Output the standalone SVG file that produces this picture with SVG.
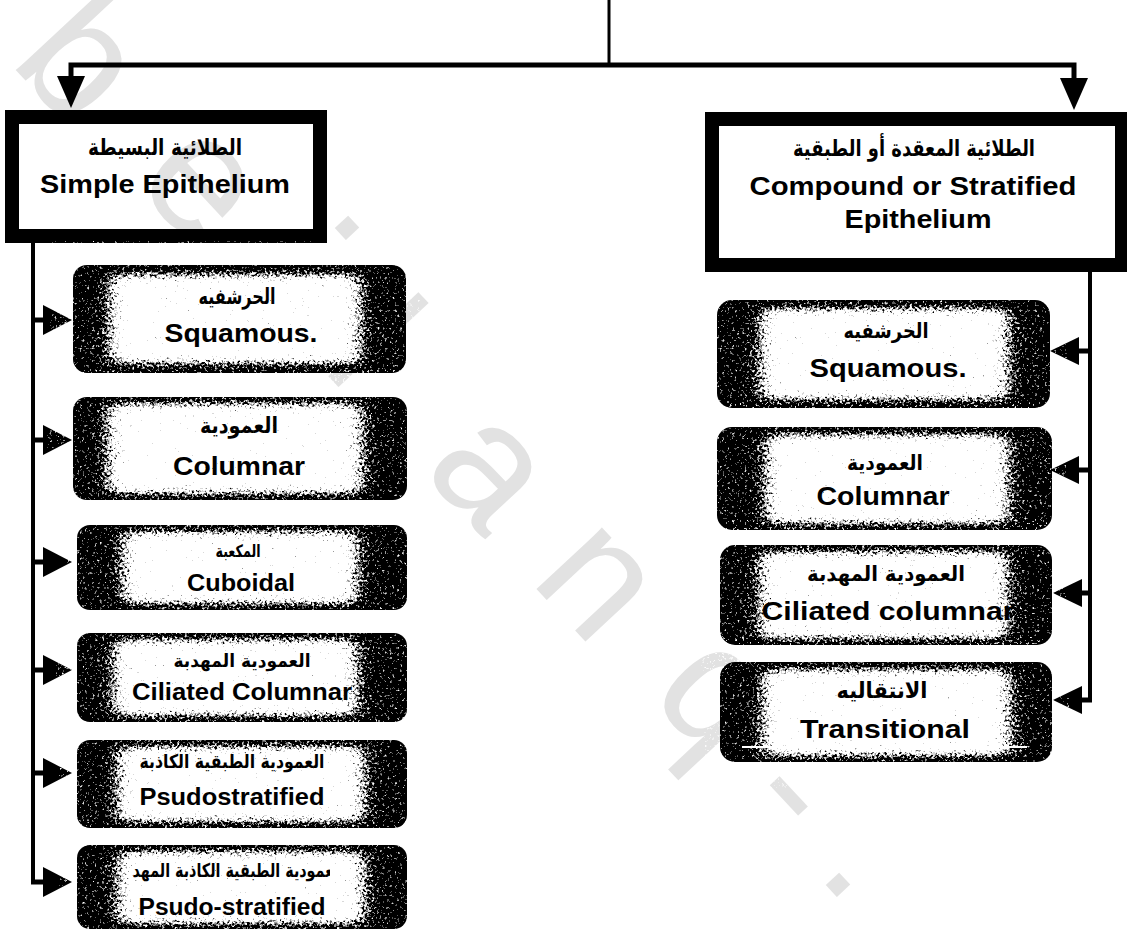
<svg xmlns="http://www.w3.org/2000/svg" width="1127" height="929" viewBox="0 0 1127 929">
<style>
.en{font-family:"Liberation Sans",Arial,sans-serif;font-weight:bold;fill:#000;text-anchor:middle}
.ar{font-family:"DejaVu Sans",sans-serif;font-weight:bold;fill:#000;text-anchor:middle}
.hbox{fill:none;stroke:#000;stroke-width:14}
.nbg{fill:#000}
.inner{fill:#fff;filter:url(#spk)}
.conn{stroke:#000;fill:none}
.arr{fill:#000}
.wm{font-family:"Liberation Sans",Arial,sans-serif;font-size:170px;fill:#e2e2e2;text-anchor:middle}
</style>
<defs>
<filter id="spk" x="-25%" y="-40%" width="150%" height="180%" color-interpolation-filters="sRGB">
<feGaussianBlur in="SourceAlpha" stdDeviation="10 5" result="blur"/>
<feTurbulence type="fractalNoise" baseFrequency="0.4" numOctaves="2" seed="7" result="noise"/>
<feColorMatrix in="noise" type="matrix" values="0 0 0 0 0  0 0 0 0 0  0 0 0 0 0  1 0 0 0 0" result="na"/>
<feComposite in="blur" in2="na" operator="arithmetic" k1="0" k2="1.6" k3="2.6" k4="-1.5" result="m"/>
<feComponentTransfer in="m" result="q"><feFuncA type="discrete" tableValues="0 0.35 0.6 0.85 1 1"/></feComponentTransfer>
<feFlood flood-color="#ffffff" result="w"/>
<feComposite in="w" in2="q" operator="in"/>
</filter>
<path id="arrR" d="M0,-15 L29,0 L0,15Z"/>
<path id="arrL" d="M0,-14 L-29,0 L0,14Z"/>
<path id="arrD" d="M-14,0 L14,0 L0,32Z"/>
<clipPath id="clipN6"><rect x="133" y="850" width="197" height="40"/></clipPath>
</defs>
<rect width="1127" height="929" fill="#fff"/>
<g id="watermark">
<text class="wm" transform="translate(85,55) rotate(47)" y="61">b</text>
<text class="wm" transform="translate(197,187) rotate(47)" y="44">e</text>
<text class="wm" transform="translate(347,228) rotate(47)" y="9">.</text>
<text class="wm" transform="translate(378,340) rotate(47)" y="61">l</text>
<text class="wm" transform="translate(485,475) rotate(47)" y="44">a</text>
<text class="wm" transform="translate(593,585) rotate(47)" y="44">n</text>
<text class="wm" transform="translate(712,700) rotate(47)" y="44">q</text>
<text class="wm" transform="translate(791,794) rotate(47)" y="48">-</text>
<text class="wm" transform="translate(838,885) rotate(47)" y="9">.</text>
</g>
<g id="connectors">
<path class="conn" stroke-width="3" d="M609,0 V66"/>
<path class="conn" stroke-width="5" d="M71,80 V65 H1074 V82"/>
<use href="#arrD" class="arr" x="71" y="76"/>
<use href="#arrD" class="arr" x="1074" y="78"/>
<path class="conn" stroke-width="4" d="M33,242 V882"/>
<path class="conn" stroke-width="5" d="M33,320 H45 M33,440 H45 M33,562 H45 M33,670 H45 M33,773 H45 M31,882 H45"/>
<use href="#arrR" class="arr" x="43" y="320"/>
<use href="#arrR" class="arr" x="43" y="440"/>
<use href="#arrR" class="arr" x="43" y="562"/>
<use href="#arrR" class="arr" x="43" y="670"/>
<use href="#arrR" class="arr" x="43" y="773"/>
<use href="#arrR" class="arr" x="43" y="882"/>
<path class="conn" stroke-width="4" d="M1090,272 V702"/>
<path class="conn" stroke-width="5" d="M1090,351 H1077 M1090,470 H1077 M1090,593 H1080 M1092,700 H1080"/>
<use href="#arrL" class="arr" x="1079" y="351"/>
<use href="#arrL" class="arr" x="1079" y="470"/>
<use href="#arrL" class="arr" x="1082" y="593"/>
<use href="#arrL" class="arr" x="1082" y="700"/>
</g>
<g id="simple">
<rect class="hbox" x="12" y="117" width="308" height="119"/>
<text class="ar" x="165" y="155" font-size="23" textLength="154" lengthAdjust="spacingAndGlyphs">الطلائية البسيطة</text>
<text class="en" x="165" y="193" font-size="26" textLength="250" lengthAdjust="spacingAndGlyphs">Simple Epithelium</text>
</g>
<g id="compound">
<rect class="hbox" x="712" y="119" width="410" height="146"/>
<text class="ar" x="914" y="156" font-size="23" textLength="242" lengthAdjust="spacingAndGlyphs">الطلائية المعقدة أو الطبقية</text>
<text class="en" x="913" y="195" font-size="26" textLength="327" lengthAdjust="spacingAndGlyphs">Compound or Stratified</text>
<text class="en" x="918" y="228" font-size="26" textLength="147" lengthAdjust="spacingAndGlyphs">Epithelium</text>
</g>
<g id="s-squamous">
<rect class="nbg" x="73" y="265" width="333" height="108" rx="14"/>
<rect class="inner" x="112" y="276" width="246" height="86"/>
<text class="ar" x="237" y="304" font-size="22" textLength="77" lengthAdjust="spacingAndGlyphs">الحرشفيه</text>
<text class="en" x="241" y="342" font-size="26" textLength="153" lengthAdjust="spacingAndGlyphs">Squamous.</text>
</g>
<g id="s-columnar">
<rect class="nbg" x="73" y="397" width="334" height="103" rx="14"/>
<rect class="inner" x="110" y="405" width="250" height="87"/>
<text class="ar" x="239" y="433" font-size="22" textLength="78" lengthAdjust="spacingAndGlyphs">العمودية</text>
<text class="en" x="239" y="475" font-size="26" textLength="132" lengthAdjust="spacingAndGlyphs">Columnar</text>
</g>
<g id="s-cuboidal">
<rect class="nbg" x="77" y="525" width="330" height="85" rx="13"/>
<rect class="inner" x="125" y="533" width="230" height="69"/>
<text class="ar" x="238" y="557" font-size="17" textLength="45" lengthAdjust="spacingAndGlyphs">المكعبة</text>
<text class="en" x="241" y="591" font-size="23" textLength="108" lengthAdjust="spacingAndGlyphs">Cuboidal</text>
</g>
<g id="s-ciliated">
<rect class="nbg" x="77" y="633" width="330" height="89" rx="13"/>
<rect class="inner" x="116" y="641" width="239" height="73"/>
<text class="ar" x="242" y="667" font-size="18" textLength="137" lengthAdjust="spacingAndGlyphs">العمودية المهدبة</text>
<text class="en" x="242" y="700" font-size="23" textLength="220" lengthAdjust="spacingAndGlyphs">Ciliated Columnar</text>
</g>
<g id="s-pseudo">
<rect class="nbg" x="77" y="740" width="330" height="88" rx="13"/>
<rect class="inner" x="120" y="748" width="242" height="72"/>
<text class="ar" x="232" y="768" font-size="19" textLength="185" lengthAdjust="spacingAndGlyphs">العمودية الطبقية الكاذبة</text>
<text class="en" x="232" y="805" font-size="23" textLength="185" lengthAdjust="spacingAndGlyphs">Psudostratified</text>
</g>
<g id="s-pseudo-ciliated">
<rect class="nbg" x="77" y="845" width="330" height="84" rx="13"/>
<rect class="inner" x="120" y="853" width="242" height="69"/>
<text class="ar" x="231" y="877" font-size="19" textLength="225" lengthAdjust="spacingAndGlyphs" clip-path="url(#clipN6)">العمودية الطبقية الكاذبة المهدبة</text>
<text class="en" x="232" y="915" font-size="23" textLength="187" lengthAdjust="spacingAndGlyphs">Psudo-stratified</text>
</g>
<g id="c-squamous">
<rect class="nbg" x="717" y="300" width="333" height="108" rx="15"/>
<rect class="inner" x="763" y="310" width="243" height="88"/>
<text class="ar" x="886" y="338" font-size="21" textLength="85" lengthAdjust="spacingAndGlyphs">الحرشفيه</text>
<text class="en" x="888" y="377" font-size="26" textLength="157" lengthAdjust="spacingAndGlyphs">Squamous.</text>
</g>
<g id="c-columnar">
<rect class="nbg" x="717" y="427" width="335" height="103" rx="15"/>
<rect class="inner" x="768" y="436" width="238" height="86"/>
<text class="ar" x="885" y="470" font-size="21" textLength="76" lengthAdjust="spacingAndGlyphs">العمودية</text>
<text class="en" x="883" y="505" font-size="26" textLength="133" lengthAdjust="spacingAndGlyphs">Columnar</text>
</g>
<g id="c-ciliated">
<rect class="nbg" x="720" y="545" width="332" height="100" rx="15"/>
<rect class="inner" x="762" y="553" width="243" height="84"/>
<text class="ar" x="886" y="581" font-size="21" textLength="158" lengthAdjust="spacingAndGlyphs">العمودية المهدبة</text>
<text class="en" x="888" y="620" font-size="26" textLength="253" lengthAdjust="spacingAndGlyphs">Ciliated columnar</text>
</g>
<g id="c-transitional">
<rect class="nbg" x="720" y="662" width="332" height="100" rx="15"/>
<rect class="inner" x="765" y="671" width="243" height="83"/>
<text class="ar" x="882" y="698" font-size="22" textLength="91" lengthAdjust="spacingAndGlyphs">الانتقاليه</text>
<text class="en" x="885" y="738" font-size="26" textLength="170" lengthAdjust="spacingAndGlyphs">Transitional</text>
<line x1="742" y1="747" x2="1027" y2="747" stroke="#fff" stroke-width="2"/>
</g>
</svg>
